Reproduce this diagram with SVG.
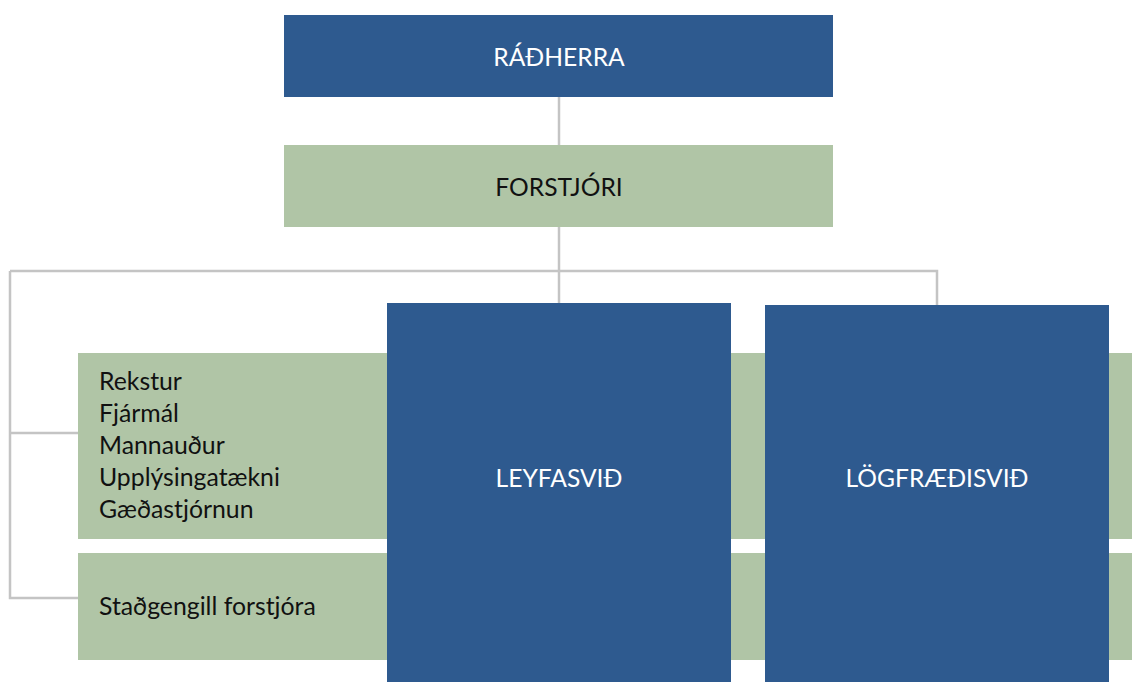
<svg xmlns="http://www.w3.org/2000/svg" width="1132" height="682" viewBox="0 0 1132 682">
<style>
.blue{fill:#2e5a8f}
.green{fill:#b0c5a6}
.lbl{font-family:Lato,"Open Sans","Liberation Sans",sans-serif;font-size:24.6px}
.w{fill:#ffffff}
.k{fill:#111111}
.side{font-family:Lato,"Open Sans","Liberation Sans",sans-serif;font-size:24.8px;fill:#111111}
.con{fill:none;stroke:#c4c4c4;stroke-width:2.5}
</style>
<rect width="1132" height="682" fill="#ffffff"/>
<g id="connectors">
<path class="con" d="M559 97V145"/>
<path class="con" d="M559 227V303"/>
<path class="con" d="M10 271H937V305"/>
<path class="con" d="M10 271V598H78"/>
<path class="con" d="M10 433H78"/>
</g>
<g id="band-support">
<rect class="green" x="78" y="353" width="1054" height="186"/>
<text class="side" x="99" y="390">Rekstur</text>
<text class="side" x="99" y="422">Fjármál</text>
<text class="side" x="99" y="454">Mannauður</text>
<text class="side" x="99" y="486">Upplýsingatækni</text>
<text class="side" x="99" y="518">Gæðastjórnun</text>
</g>
<g id="band-deputy">
<rect class="green" x="78" y="553" width="1054" height="107"/>
<text class="side" x="99" y="615">Staðgengill forstjóra</text>
</g>
<g id="radherra">
<rect class="blue" x="284" y="15" width="549" height="82"/>
<text class="lbl w" x="559" y="66" text-anchor="middle">RÁÐHERRA</text>
</g>
<g id="forstjori">
<rect class="green" x="284" y="145" width="549" height="82"/>
<text class="lbl k" x="559" y="196" text-anchor="middle">FORSTJÓRI</text>
</g>
<g id="leyfasvid">
<rect class="blue" x="387" y="303" width="344" height="379"/>
<text class="lbl w" x="559" y="487" text-anchor="middle">LEYFASVIÐ</text>
</g>
<g id="logfraedisvid">
<rect class="blue" x="765" y="305" width="344" height="377"/>
<text class="lbl w" x="937" y="487" text-anchor="middle">LÖGFRÆÐISVIÐ</text>
</g>
</svg>
